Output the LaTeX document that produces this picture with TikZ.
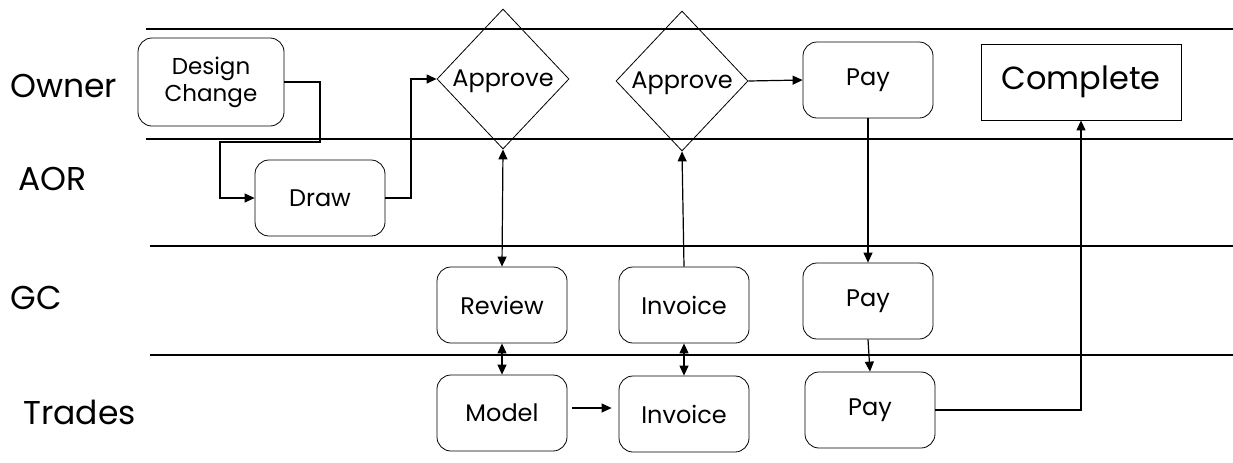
\documentclass[tikz,border=0pt]{standalone}
\usepackage{fontspec}
\setmainfont{Poppins}
\usetikzlibrary{
	calc,
	arrows.meta,
	shapes.geometric,
	positioning
	}
\tikzstyle{etape}=[draw,rounded corners=7pt,minimum width=65pt,minimum height=38pt,inner sep=2pt,font=\fontsize{12}{13}\selectfont]
\tikzstyle{fin}=[draw,minimum width=100pt,minimum height=38pt,inner sep=2pt,font=\fontsize{16}{17}\selectfont]
\tikzstyle{losange}=[draw,diamond,minimum width=66pt,minimum height=70pt,inner sep=0pt]
\tikzstyle{couloir}=[line width=0.9pt]
\tikzstyle{acteur}=[font=\fontsize{16.5}{17}\selectfont,anchor=west,inner sep=0pt]
\tikzstyle{fleche}=[semithick,-{Triangle[length=5pt,width=4.5pt]}]
\tikzstyle{fleche2}=[semithick,{Triangle[length=5pt,width=4.5pt]}-{Triangle[length=5pt,width=4.5pt]}]

\begin{document}
\begin{tikzpicture}[x=0.5pt,y=-0.5pt]
\useasboundingbox (0,0) rectangle (1233,462);

% lanes
\draw[couloir] (146,29) -- (1233,29);
\draw[couloir] (146,139) -- (1233,139);
\draw[couloir] (150,246) -- (1233,246);
\draw[couloir] (150,355) -- (1233,355);

\node[acteur] (owner) at (10,86) {Owner};
\node[acteur] (aor) at (18,179) {AOR};
\node[acteur] (gc) at (10,298) {GC};
\node[acteur] (trades) at (23,412) {Trades};

% steps
\node[etape,minimum width=73pt,minimum height=44pt,align=center,font=\fontsize{11.5}{13.5}\selectfont] (dc) at (211,82) {Design\\Change};
\node[etape] (draw) at (320,198) {Draw};
\node[losange] (ap1) at (503,79) {};
\node[font=\fontsize{12}{13}\selectfont] (ap1t) at (503,81) {Approve};
\node[losange] (ap2) at (682,81) {};
\node[font=\fontsize{12}{13}\selectfont] (ap2t) at (682,83) {Approve};
\node[etape] (payo) at (868,80) {Pay};
\node[fin] (done) at (1081,82) {Complete};

\node[etape] (rev) at (502,305) {Review};
\node[etape] (invg) at (684,305) {Invoice};
\node[etape] (payg) at (868,301) {Pay};

\node[etape] (mod) at (502,413) {Model};
\node[etape] (invt) at (684,414) {Invoice};
\node[etape] (payt) at (870,410) {Pay};

% links
\draw[fleche] (dc.east) -| (320,142) -| (220,198) -- (draw.west);
\draw[fleche] (draw.east) -| (411,79) -- (ap1.west);
\draw[fleche2] (ap1.south) -- (rev.north);
\draw[fleche2] (rev.south) -- (mod.north);
\draw[fleche] ($(mod.east)+(5,-5)$) -- ($(invt.west)+(-7,-6)$);
\draw[fleche2] (invt.north) -- (invg.south);
\draw[fleche] (invg.north) -- (ap2.south);
\draw[fleche] (ap2.east) -- (payo.west);
\draw[fleche] (payo.south) -- (payg.north);
\draw[fleche] (payg.south) -- (payt.north);
\draw[fleche] (payt.east) -| (done.south);
\end{tikzpicture}
\end{document}
